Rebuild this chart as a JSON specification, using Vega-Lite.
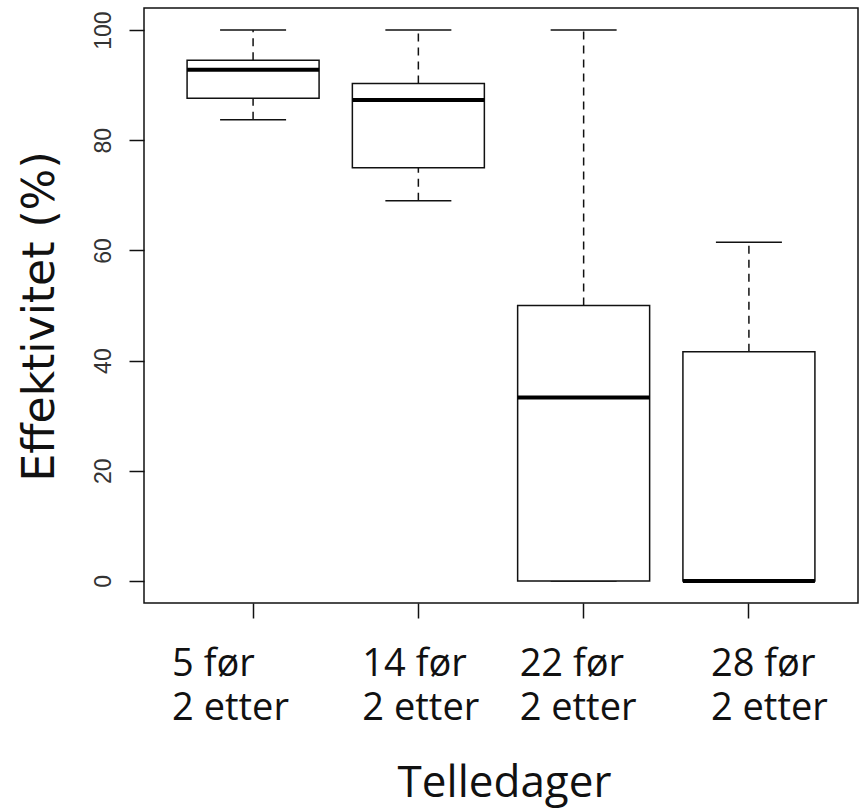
{
  "$schema": "https://vega.github.io/schema/vega-lite/v6.json",
  "autosize": "none",
  "width": 714,
  "height": 595,
  "padding": {"left": 144, "top": 8, "right": 7, "bottom": 206},
  "background": "white",
  "config": {
    "view": {"stroke": "#111", "strokeWidth": 1.5, "fill": "white"},
    "axis": {"grid": false}
  },
  "data": {
    "values": [
      {"group": "5 før, 2 etter", "lower": 83.7, "q1": 87.6, "median": 92.8, "q3": 94.5, "upper": 100},
      {"group": "14 før, 2 etter", "lower": 69.0, "q1": 75.0, "median": 87.3, "q3": 90.3, "upper": 100},
      {"group": "22 før, 2 etter", "lower": 0, "q1": 0, "median": 33.3, "q3": 50.0, "upper": 100},
      {"group": "28 før, 2 etter", "lower": 0, "q1": 0, "median": 0, "q3": 41.6, "upper": 61.5}
    ]
  },
  "encoding": {
    "x": {
      "field": "group",
      "type": "nominal",
      "sort": null,
      "scale": {"type": "band", "paddingInner": 0, "paddingOuter": 0.16},
      "axis": {
        "title": "Telledager",
        "titleFont": "Open Sans",
        "titleFontSize": 44,
        "titleFontWeight": "normal",
        "titleColor": "#111",
        "titleX": 360,
        "titleY": 193,
        "titleBaseline": "alphabetic",
        "titleAlign": "center",
        "domain": false,
        "ticks": true,
        "tickSize": 15,
        "tickColor": "#111",
        "tickWidth": 1.5,
        "labelAngle": 0,
        "labelExpr": "split(datum.label, ', ')",
        "labelFont": "Open Sans",
        "labelFontSize": 38,
        "labelColor": "#111",
        "labelAlign": "left",
        "labelBaseline": "alphabetic",
        "labelPadding": 57,
        "labelLineHeight": 44,
        "labelOverlap": false,
        "labelBound": false,
        "labelOffset": {
          "condition": [
            {"test": "datum.value === '5 før, 2 etter'", "value": -81},
            {"test": "datum.value === '14 før, 2 etter'", "value": -56},
            {"test": "datum.value === '22 før, 2 etter'", "value": -64}
          ],
          "value": -38
        }
      }
    }
  },
  "layer": [
    {
      "mark": {"type": "rule", "strokeDash": [8, 6], "strokeWidth": 1.5, "color": "#111"},
      "encoding": {
        "y": {
          "field": "lower",
          "type": "quantitative",
          "scale": {"domain": [-4, 104], "nice": false, "zero": false},
          "axis": {
            "title": "Effektivitet (%)",
            "titleFont": "DejaVu Sans",
            "titleFontSize": 44,
            "titleFontWeight": "normal",
            "titleColor": "#111",
            "titleAngle": 270,
            "titleX": -91,
            "titleY": 308,
            "titleAlign": "center",
            "titleBaseline": "alphabetic",
            "values": [0, 20, 40, 60, 80, 100],
            "domain": false,
            "tickSize": 15,
            "tickColor": "#111",
            "tickWidth": 1.5,
            "labelAngle": 270,
            "labelAlign": "center",
            "labelBaseline": "bottom",
            "labelFont": "Liberation Sans",
            "labelFontSize": 23,
            "labelColor": "#333",
            "labelPadding": 14
          }
        },
        "y2": {"field": "q1"}
      }
    },
    {
      "mark": {"type": "rule", "strokeDash": [8, 6], "strokeWidth": 1.5, "color": "#111"},
      "encoding": {
        "y": {"field": "q3", "type": "quantitative"},
        "y2": {"field": "upper"}
      }
    },
    {
      "mark": {"type": "tick", "size": 66, "thickness": 1.5, "color": "#111", "opacity": 1},
      "encoding": {"y": {"field": "upper", "type": "quantitative"}}
    },
    {
      "mark": {"type": "tick", "size": 66, "thickness": 1.5, "color": "#111", "opacity": 1},
      "encoding": {"y": {"field": "lower", "type": "quantitative"}}
    },
    {
      "mark": {"type": "bar", "size": 132, "fill": "white", "stroke": "#111", "strokeWidth": 1.5},
      "encoding": {
        "y": {"field": "q1", "type": "quantitative"},
        "y2": {"field": "q3"}
      }
    },
    {
      "mark": {"type": "tick", "size": 132, "thickness": 4, "color": "#000", "opacity": 1},
      "encoding": {"y": {"field": "median", "type": "quantitative"}}
    }
  ]
}
